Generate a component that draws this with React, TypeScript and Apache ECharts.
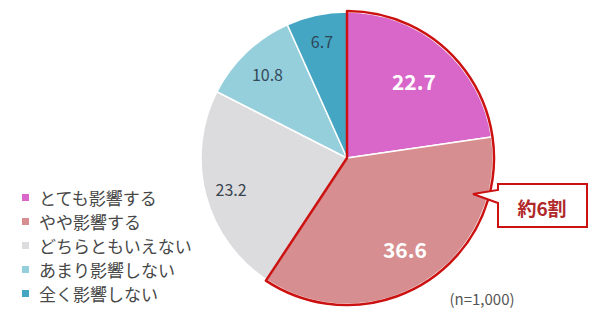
import React, { useEffect, useRef } from "react";
import * as echarts from "echarts";

const categories = ["とても影響する", "やや影響する", "どちらともいえない", "あまり影響しない", "全く影響しない"];
const values = [22.7, 36.6, 23.2, 10.8, 6.7];
const colors = ["#d966c9", "#d68e90", "#dcdcdf", "#95cfdc", "#45a6c3"];
const labelColors = ["#ffffff", "#ffffff", "#3a4550", "#33495a", "#2e4658"];
const labelSizes = [21, 21, 16, 16, 16];
const labelWeights = ["bold", "bold", "normal", "normal", "normal"];
const labelRadiusFactor = [0.68, 0.72, 0.8, 0.77, 0.8];
const highlightCount = 2;
const calloutText = "約6割";
const noteText = "(n=1,000)";

const FONT = '"Noto Sans CJK JP", "Noto Sans", sans-serif';

export default function App() {
  const ref = useRef<HTMLDivElement>(null);
  useEffect(() => {
    if (!ref.current) return;
    const chart = echarts.init(ref.current, null, { renderer: "svg" });
    const cx = 347;
    const cy = 158;
    const R = 146;
    const total = values.reduce((a, b) => a + b, 0);
    const midAngles: number[] = [];
    let acc = 0;
    values.forEach((v) => {
      const mid = 90 - ((acc + v / 2) / total) * 360;
      midAngles.push((mid * Math.PI) / 180);
      acc += v;
    });
    const highlightSum = values.slice(0, highlightCount).reduce((a, b) => a + b, 0);

    chart.setOption({
      animation: false,
      textStyle: { fontFamily: FONT },
      legend: {
        orient: "vertical",
        left: 15,
        top: 184,
        icon: "rect",
        itemWidth: 9,
        itemHeight: 9,
        itemGap: 7,
        data: categories,
        selectedMode: false,
        textStyle: { fontSize: 17, color: "#474747", fontFamily: FONT, padding: [0, 0, 0, 4] },
      },
      series: [
        {
          type: "pie",
          center: [cx, cy],
          radius: [0, R],
          startAngle: 90,
          silent: true,
          itemStyle: { borderColor: "#ffffff", borderWidth: 1.5 },
          label: {
            show: true,
            position: "inside",
            formatter: (p: any) => p.value.toFixed(1),
            fontFamily: FONT,
          },
          labelLine: { show: false },
          labelLayout: (params: any) => {
            const i = params.dataIndex;
            const d = labelRadiusFactor[i] * R - R / 2;
            return { dx: d * Math.cos(midAngles[i]), dy: -d * Math.sin(midAngles[i]) };
          },
          data: categories.map((name, i) => ({
            name,
            value: values[i],
            itemStyle: { color: colors[i] },
            label: { color: labelColors[i], fontSize: labelSizes[i], fontWeight: labelWeights[i] },
          })),
        },
        {
          type: "pie",
          center: [cx, cy],
          radius: [0, R + 1],
          startAngle: 90,
          silent: true,
          label: { show: false },
          labelLine: { show: false },
          z: 3,
          data: [
            {
              name: "_hl",
              value: highlightSum,
              itemStyle: { color: "rgba(0,0,0,0)", borderColor: "#cc1111", borderWidth: 2.5 },
            },
            {
              name: "_rest",
              value: total - highlightSum,
              itemStyle: { color: "rgba(0,0,0,0)", borderWidth: 0 },
            },
          ],
        },
      ],
      graphic: [
        {
          type: "polygon",
          z: 10,
          shape: {
            points: [
              [498, 184],
              [587, 184],
              [587, 227],
              [498, 227],
              [498, 203],
              [473, 194],
              [498, 190],
            ],
          },
          style: { fill: "#ffffff", stroke: "#cc1111", lineWidth: 2 },
        },
        {
          type: "text",
          z: 11,
          x: 542,
          y: 207,
          style: {
            text: calloutText,
            fontSize: 19,
            fontWeight: "bold",
            fill: "#b0282a",
            fontFamily: FONT,
            align: "center",
            verticalAlign: "middle",
          },
        },
        {
          type: "text",
          z: 11,
          x: 482,
          y: 298,
          style: {
            text: noteText,
            fontSize: 15,
            fill: "#555555",
            fontFamily: FONT,
            align: "center",
            verticalAlign: "middle",
          },
        },
      ],
    });
    return () => chart.dispose();
  }, []);
  return (
    <div
      ref={ref}
      style={{ position: "fixed", left: 0, top: 0, width: 600, height: 323, background: "#ffffff" }}
    />
  );
}
